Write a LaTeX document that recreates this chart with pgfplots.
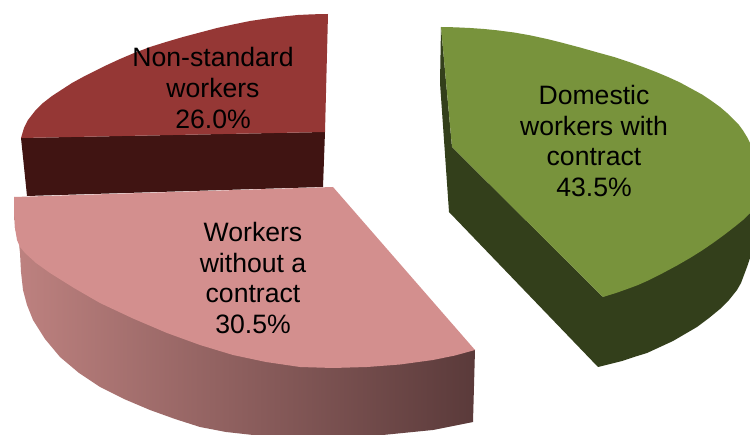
\documentclass[border=0pt]{standalone}
\usepackage{fontspec}
\setmainfont{Liberation Sans}
\usepackage{pgfplots}
\pgfplotsset{compat=1.18}
\definecolor{gtop}{HTML}{78933C}
\definecolor{gside}{HTML}{333F1B}
\definecolor{rtop}{HTML}{953735}
\definecolor{rside}{HTML}{401412}
\definecolor{ptop}{HTML}{D38F8E}
\definecolor{pa}{RGB}{190,130,128}
\definecolor{pb}{RGB}{140,94,92}
\definecolor{pc}{RGB}{90,58,58}
\tikzset{lab/.style={font=\fontsize{26.6}{30.6}\selectfont, align=center, text=black, inner sep=0pt}}
\begin{document}
\begin{tikzpicture}
\begin{axis}[
  scale only axis, width=750pt, height=435pt,
  xmin=0, xmax=750, ymin=0, ymax=435, y dir=reverse,
  hide axis, clip=true,
  every axis plot/.append style={draw=none, line join=round}
]
% background that sets the extent of the picture
\addplot[fill=white] coordinates {(0,0)(750,0)(750,435)(0,435)} -- cycle;
% Non-standard workers
\addplot[fill=rside] coordinates {(21,138)(325,132)(323,187)(27,196)} -- cycle;
\addplot[fill=rtop] coordinates {(328,14)(313,14.3)(298,15)(283,16.5)(267,18.5)(250,21)(233,24.5)(217,28)(200,32.5)(183,37)(166,42)(150,47)(133,53.5)(120,59)(107,65)(95,71)(83,77)(72,83)(62,89.5)(52,96)(43,103)(35,111)(28,120)(24,128)(21,138)(325,132)} -- cycle;
% Workers without a contract
\addplot[left color=pa, middle color=pb, right color=pc]
  coordinates {(14,197)(15,228)(20,247)(475,350)(473,422)(433,430)(383,435)(253,435)(226,432)(200,427)(175,419)(150,410)(124,399)(100,387)(79,373)(60,357)(45,339)(33,320)(27,305)(23,290)(21,272)(20,253)} -- cycle;
\addplot[fill=ptop] coordinates {(14,197)(333,187)(475,350)(455,355.5)(433,360)(400,364.5)(367,367)(333,368)(300,367)(266,362)(233,355)(200,345)(167,333)(133,318.5)(100,303)(74,288)(50,273)(36,263)(25,253)(20,247)(17,240)(15,228)(14,213)} -- cycle;
% Domestic workers with contract
\addplot[fill=gside] coordinates {(441,27)(452,147)(603,297)(750,213)(750,258)(747,267)(744,275)(741,283)(737,290)(729,300)(720,309)(709,318)(697,327)(685,334)(673,341)(660,347)(647,353)(634,357)(622,361)(610,364)(598,367)(449,212)(444,140)(440,83)} -- cycle;
\addplot[fill=gtop] coordinates {(441,27)(455,27.3)(470,28)(484,29)(497,30.3)(514,32.5)(530,35.3)(547,39)(563,43)(580,47.5)(597,52.3)(614,57)(630,62.3)(643,67)(656,72)(668,77)(680,82.5)(691,88.5)(702,94.5)(711,100.5)(720,107)(727,113)(733,119)(739,125)(743,130.5)(747,137)(750,143)(750,213)(743,220)(735,226.5)(724,235)(713,243)(702,250.5)(690,258)(677,265.5)(663,273)(655,277)(647,281)(638,285)(630,288)(616,293)(603,297)(452,147)} -- cycle;
\node[lab] at (axis cs:594,141) {Domestic\\workers with\\contract\\43.5\%};
\node[lab] at (axis cs:213,88) {Non-standard\\workers\\26.0\%};
\node[lab] at (axis cs:253,278) {Workers\\without a\\contract\\30.5\%};
\end{axis}
\end{tikzpicture}
\end{document}
